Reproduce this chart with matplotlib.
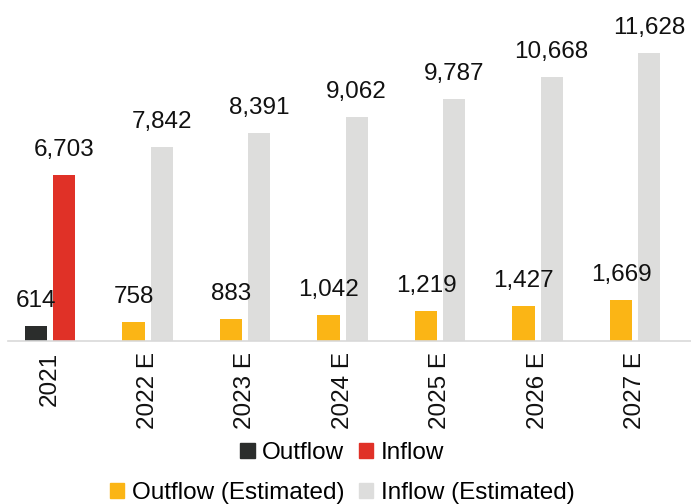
import matplotlib
matplotlib.use("Agg")
import matplotlib.pyplot as plt
from matplotlib.patches import Patch
import numpy as np

years = ["2021", "2022 E", "2023 E", "2024 E", "2025 E", "2026 E", "2027 E"]
outflow = [614, 758, 883, 1042, 1219, 1427, 1669]
inflow = [6703, 7842, 8391, 9062, 9787, 10668, 11628]
estimated = [False, True, True, True, True, True, True]

OUT_COLOR = "#2b2d2c"
IN_COLOR = "#e03127"
OUT_EST_COLOR = "#fbb515"
IN_EST_COLOR = "#dddddc"

plt.rcParams["font.family"] = ["Liberation Sans", "DejaVu Sans"]
FS = 17.5

fig = plt.figure(figsize=(6.91, 5.04), dpi=100)
ax = fig.add_axes([8 / 691, 1 - 341 / 504, 683 / 691, 341 / 504])

x = np.arange(len(years))
width = 0.226
offset = 0.144
out_colors = [OUT_EST_COLOR if e else OUT_COLOR for e in estimated]
in_colors = [IN_EST_COLOR if e else IN_COLOR for e in estimated]
bars_out = ax.bar(x - offset, outflow, width, color=out_colors)
bars_in = ax.bar(x + offset, inflow, width, color=in_colors)

for bars, vals in ((bars_out, outflow), (bars_in, inflow)):
    for b, v in zip(bars, vals):
        ax.annotate(f"{v:,}", (b.get_x() + b.get_width() / 2, v),
                    xytext=(0, 10), textcoords="offset points",
                    ha="center", va="bottom", fontsize=FS, color="#111111")

ax.set_xlim(-0.431, 6.574)
ax.set_ylim(0, 13780)
ax.set_xticks(x)
ax.set_xticklabels(years, rotation=90, fontsize=FS, color="#111111")
ax.tick_params(axis="x", length=0, pad=8)
ax.set_yticks([])
for side in ("top", "right", "left"):
    ax.spines[side].set_visible(False)
ax.spines["bottom"].set_color("#d9d9d9")
ax.spines["bottom"].set_linewidth(1.2)

row1 = [Patch(color=OUT_COLOR, label="Outflow"), Patch(color=IN_COLOR, label="Inflow")]
row2 = [Patch(color=OUT_EST_COLOR, label="Outflow (Estimated)"),
        Patch(color=IN_EST_COLOR, label="Inflow (Estimated)")]
legend_kw = dict(ncol=2, frameon=False, fontsize=FS, handlelength=0.6, handleheight=0.6,
                 handletextpad=0.3, columnspacing=0.6, borderpad=0)
fig.legend(handles=row1, loc="center", bbox_to_anchor=(342 / 691, 1 - 453 / 504), **legend_kw)
fig.legend(handles=row2, loc="center", bbox_to_anchor=(342 / 691, 1 - 493 / 504), **legend_kw)

fig.savefig("out.png", dpi=100)
